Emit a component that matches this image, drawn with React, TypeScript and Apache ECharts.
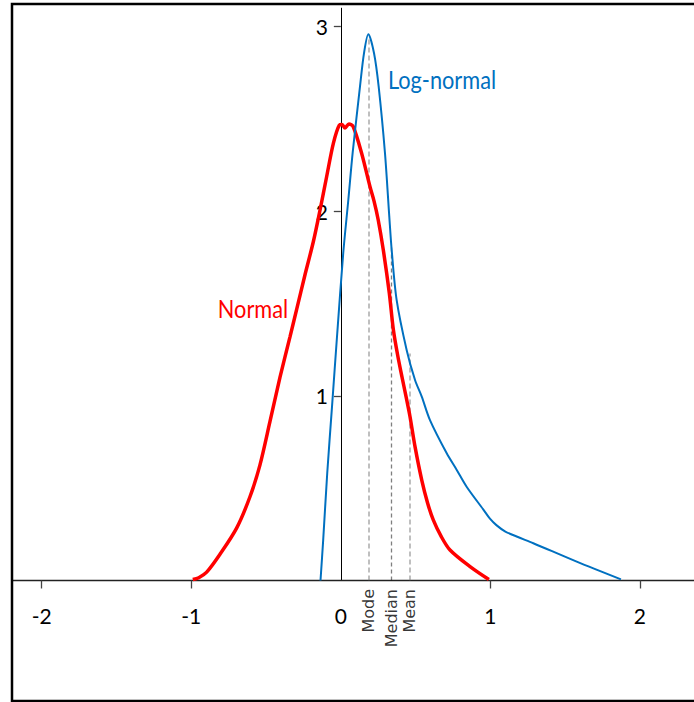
import React, { useEffect, useRef } from "react";
import * as echarts from "echarts";

// Normal distribution curve (x, density)
const normalX = [-0.99, -0.95, -0.897, -0.808, -0.696, -0.607, -0.541, -0.474, -0.407, -0.34, -0.295, -0.24, -0.184, -0.139, -0.095, -0.05, -0.01, 0.008, 0.028, 0.054, 0.083, 0.139, 0.195, 0.222, 0.25, 0.284, 0.324, 0.351, 0.38, 0.407, 0.435, 0.462, 0.496, 0.541, 0.58, 0.618, 0.67, 0.73, 0.864, 0.99];
const normalY = [0.005, 0.015, 0.045, 0.142, 0.285, 0.455, 0.625, 0.86, 1.1, 1.32, 1.47, 1.655, 1.835, 2.007, 2.187, 2.368, 2.467, 2.47, 2.451, 2.473, 2.458, 2.314, 2.133, 2.055, 1.953, 1.79, 1.557, 1.36, 1.22, 1.11, 1.0, 0.89, 0.725, 0.544, 0.42, 0.328, 0.24, 0.165, 0.075, 0.005];

// Log-normal curve (x, density)
const logNormalX = [-0.136, -0.118, -0.091, -0.059, -0.024, 0.016, 0.05, 0.079, 0.128, 0.155, 0.184, 0.222, 0.253, 0.295, 0.324, 0.34, 0.373, 0.44, 0.496, 0.541, 0.596, 0.708, 0.775, 0.841, 0.952, 0.997, 1.04, 1.1, 1.18, 1.287, 1.577, 1.873];
const logNormalY = [0.0, 0.219, 0.581, 0.942, 1.339, 1.773, 2.061, 2.316, 2.675, 2.857, 2.959, 2.856, 2.675, 2.316, 1.971, 1.79, 1.52, 1.249, 1.086, 0.996, 0.869, 0.689, 0.599, 0.508, 0.385, 0.335, 0.3, 0.265, 0.237, 0.202, 0.102, 0.006];

// Mode / Median / Mean markers
const markerNames = ["Mode", "Median", "Mean"];
const markerX = [0.188, 0.339, 0.462];
const markerTop = [2.93, 1.81, 1.23];
const markerColors = ["#808080", "#000000", "#808080"];

// Axis ticks / labels
const xTickValues = [-2, -1, 1, 2];
const xLabelValues = [-2, -1, 0, 1, 2];
const yTickValues = [1, 2, 3];

const FONT = "Lato";

const X_MIN = -2.2;
const X_MAX = 2.36;
const GRID_LEFT = 11.8;
const GRID_RIGHT = 0.2;
const CHART_W = 694;

export default function App() {
  const ref = useRef<HTMLDivElement>(null);

  useEffect(() => {
    if (!ref.current) return;
    const chart = echarts.init(ref.current, null, { renderer: "svg" });

    const gridWidth = CHART_W - GRID_LEFT - GRID_RIGHT;
    const zeroOffset = ((0 - X_MIN) / (X_MAX - X_MIN)) * gridWidth;

    const option: any = {
      animation: false,
      grid: {
        left: GRID_LEFT,
        right: GRID_RIGHT,
        top: 8.2,
        bottom: 121.5,
        containLabel: false,
        outerBoundsMode: "none",
      },
      xAxis: {
        type: "value",
        min: X_MIN,
        max: X_MAX,
        axisLine: { onZero: true, lineStyle: { color: "#222", width: 1.3 } },
        axisTick: {
          show: true,
          length: 8,
          customValues: xTickValues,
          lineStyle: { color: "#444", width: 1.3 },
        },
        axisLabel: {
          customValues: xLabelValues,
          fontFamily: FONT,
          fontSize: 21,
          color: "#000",
          margin: 24,
        },
        splitLine: { show: false },
      },
      yAxis: {
        type: "value",
        min: 0,
        max: 3.1,
        offset: -zeroOffset,
        axisLine: { show: true, onZero: false, lineStyle: { color: "#000", width: 1 } },
        axisTick: {
          show: true,
          length: 7,
          customValues: yTickValues,
          lineStyle: { color: "#444", width: 1.3 },
        },
        axisLabel: {
          customValues: yTickValues,
          fontFamily: FONT,
          fontSize: 21,
          color: "#000",
          margin: 13,
        },
        splitLine: { show: false },
      },
      series: [
        {
          type: "lines",
          coordinateSystem: "cartesian2d",
          z: 1,
          silent: true,
          data: markerX.map((x, i) => ({
            coords: [
              [x, 0],
              [x, markerTop[i]],
            ],
            lineStyle: {
              color: markerColors[i],
              width: i === 1 ? 1.3 : 2,
              type: i === 1 ? [4, 3] : [5, 3],
            },
          })),
        },
        {
          type: "line",
          name: "Normal",
          data: normalX.map((x, i) => [x, normalY[i]]),
          showSymbol: false,
          symbol: "none",
          smooth: 0.3,
          z: 3,
          lineStyle: { color: "#ff0000", width: 3.5 },
        },
        {
          type: "line",
          name: "Log-normal",
          data: logNormalX.map((x, i) => [x, logNormalY[i]]),
          showSymbol: false,
          symbol: "none",
          smooth: 0.3,
          z: 4,
          lineStyle: { color: "#0070c0", width: 2 },
        },
        {
          type: "scatter",
          symbolSize: 1,
          itemStyle: { color: "rgba(0,0,0,0)" },
          silent: true,
          data: markerX.map((x) => [x, 0]),
          label: {
            show: true,
            formatter: (p: any) => markerNames[p.dataIndex],
            position: "bottom",
            distance: 8,
            rotate: 90,
            align: "right",
            verticalAlign: "middle",
            fontFamily: "DejaVu Sans",
            fontSize: 16,
            color: "#000",
          },
        },
      ],
      graphic: [
        {
          type: "rect",
          silent: true,
          z: 100,
          shape: { x: 12, y: 4, width: 720, height: 697 },
          style: { fill: "none", stroke: "#000", lineWidth: 2.5 },
        },
        {
          type: "text",
          x: 253,
          y: 308,
          scaleX: 0.87,
          style: {
            text: "Normal",
            fill: "#ff0000",
            fontFamily: FONT,
            fontSize: 25,
            align: "center",
            verticalAlign: "middle",
          },
        },
        {
          type: "text",
          x: 442,
          y: 79,
          scaleX: 0.87,
          style: {
            text: "Log-normal",
            fill: "#0070c0",
            fontFamily: FONT,
            fontSize: 25,
            align: "center",
            verticalAlign: "middle",
          },
        },
      ],
    };

    chart.setOption(option);
    return () => chart.dispose();
  }, []);

  return (
    <div
      ref={ref}
      style={{ position: "absolute", left: 0, top: 0, width: 694, height: 702 }}
    />
  );
}
